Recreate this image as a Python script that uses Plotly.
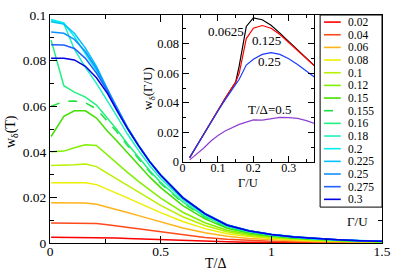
import plotly.graph_objects as go

# ---------------- main panel data: w_delta(T) for several Gamma/U ----------------
T = [0.005, 0.0625, 0.11, 0.16, 0.21, 0.26, 0.3, 0.35, 0.4, 0.45, 0.5,
     0.6, 0.7, 0.8, 0.9, 1.0, 1.1, 1.2, 1.3, 1.4, 1.5]

gamma_labels = ["0.02", "0.04", "0.06", "0.08", "0.1", "0.12", "0.15", "0.155",
                "0.16", "0.18", "0.2", "0.225", "0.25", "0.275", "0.3"]

w_002 = [0.0025, 0.0025, 0.0025, 0.0025, 0.0024, 0.0023, 0.0022, 0.0020, 0.0018, 0.0016, 0.0014,
         0.0010, 0.0007, 0.0005, 0.0003, 0.0002, 0.0002, 0.0001, 0.0001, 0.0001, 0.0001]
w_004 = [0.0088, 0.0088, 0.0088, 0.0087, 0.0085, 0.0080, 0.0075, 0.0069, 0.0062, 0.0055, 0.0048,
         0.0035, 0.0024, 0.0016, 0.0011, 0.0008, 0.0006, 0.0004, 0.0003, 0.0002, 0.0002]
w_006 = [0.0176, 0.0176, 0.0176, 0.0175, 0.0170, 0.0158, 0.0148, 0.0134, 0.0120, 0.0106, 0.0092,
         0.0066, 0.0045, 0.0030, 0.0020, 0.0014, 0.0010, 0.0007, 0.0005, 0.0004, 0.0003]
w_008 = [0.0264, 0.0264, 0.0264, 0.0264, 0.0256, 0.0236, 0.0220, 0.0198, 0.0176, 0.0154, 0.0133,
         0.0094, 0.0063, 0.0041, 0.0028, 0.0020, 0.0014, 0.0010, 0.0008, 0.0006, 0.0004]
w_010 = [0.0340, 0.0340, 0.0343, 0.0346, 0.0335, 0.0305, 0.0282, 0.0252, 0.0222, 0.0193, 0.0165,
         0.0115, 0.0077, 0.0049, 0.0033, 0.0023, 0.0017, 0.0012, 0.0009, 0.0007, 0.0005]
w_012 = [0.0400, 0.0403, 0.0418, 0.0431, 0.0428, 0.0385, 0.0350, 0.0310, 0.0270, 0.0232, 0.0197,
         0.0135, 0.0089, 0.0056, 0.0038, 0.0027, 0.0019, 0.0014, 0.0010, 0.0008, 0.0006]
w_015 = [0.0467, 0.0556, 0.0580, 0.0580, 0.0548, 0.0490, 0.0450, 0.0395, 0.0342, 0.0290, 0.0243,
         0.0164, 0.0106, 0.0065, 0.0044, 0.0031, 0.0022, 0.0016, 0.0012, 0.0009, 0.0006]
w_0155 = [0.0600, 0.0620, 0.0623, 0.0615, 0.0588, 0.0535, 0.0490, 0.0428, 0.0368, 0.0312, 0.0261,
          0.0176, 0.0113, 0.0069, 0.0047, 0.0033, 0.0023, 0.0017, 0.0012, 0.0009, 0.0007]
w_016 = [0.0890, 0.0690, 0.0662, 0.0640, 0.0605, 0.0548, 0.0500, 0.0435, 0.0375, 0.0318, 0.0266,
         0.0180, 0.0116, 0.0071, 0.0048, 0.0034, 0.0024, 0.0017, 0.0013, 0.0009, 0.0007]
w_018 = [0.0975, 0.0962, 0.0850, 0.0770, 0.0700, 0.0625, 0.0560, 0.0478, 0.0406, 0.0340, 0.0283,
         0.0190, 0.0122, 0.0075, 0.0051, 0.0035, 0.0025, 0.0018, 0.0013, 0.0010, 0.0007]
w_020 = [0.0980, 0.0965, 0.0905, 0.0830, 0.0755, 0.0665, 0.0587, 0.0502, 0.0425, 0.0355, 0.0296,
         0.0197, 0.0127, 0.0078, 0.0053, 0.0037, 0.0026, 0.0019, 0.0014, 0.0010, 0.0008]
w_0225 = [0.0970, 0.0960, 0.0920, 0.0855, 0.0775, 0.0675, 0.0593, 0.0506, 0.0428, 0.0358, 0.0298,
          0.0199, 0.0129, 0.0079, 0.0054, 0.0037, 0.0027, 0.0019, 0.0014, 0.0010, 0.0008]
w_025 = [0.0925, 0.0920, 0.0893, 0.0840, 0.0765, 0.0672, 0.0593, 0.0507, 0.0429, 0.0359, 0.0299,
         0.0200, 0.0130, 0.0080, 0.0054, 0.0038, 0.0027, 0.0019, 0.0014, 0.0010, 0.0008]
w_0275 = [0.0870, 0.0868, 0.0853, 0.0810, 0.0745, 0.0665, 0.0590, 0.0505, 0.0428, 0.0358, 0.0298,
          0.0199, 0.0129, 0.0079, 0.0054, 0.0037, 0.0027, 0.0019, 0.0014, 0.0010, 0.0008]
w_030 = [0.0810, 0.0810, 0.0803, 0.0775, 0.0725, 0.0655, 0.0585, 0.0502, 0.0426, 0.0357, 0.0297,
         0.0198, 0.0128, 0.0078, 0.0053, 0.0037, 0.0026, 0.0019, 0.0014, 0.0010, 0.0008]

main_series = [w_002, w_004, w_006, w_008, w_010, w_012, w_015, w_0155,
               w_016, w_018, w_020, w_0225, w_025, w_0275, w_030]
main_colors = ["#ff0000", "#ff4a1a", "#ffb31a", "#eeee00", "#b8f000", "#80f000", "#40e000",
               "#20e040", "#20f080", "#20f0c0", "#00eef0", "#00c0ff", "#1090ff", "#2060ff", "#0000e0"]
main_dash = ["solid"] * 7 + ["dash"] + ["solid"] * 7

# ---------------- inset data: w_delta(Gamma/U) at fixed T ----------------
G = [0.02, 0.04, 0.06, 0.08, 0.1, 0.12, 0.15, 0.16, 0.18, 0.2, 0.225,
     0.25, 0.275, 0.3, 0.325, 0.35, 0.375]
ins_T00625 = [0.003, 0.011, 0.019, 0.027, 0.035, 0.043, 0.054, 0.065, 0.0917, 0.0975, 0.0962,
              0.0925, 0.0872, 0.0815, 0.0760, 0.0703, 0.0645]
ins_T0125 = [0.003, 0.011, 0.019, 0.027, 0.035, 0.043, 0.054, 0.060, 0.0835, 0.0905, 0.0923,
             0.0905, 0.0862, 0.0810, 0.0757, 0.0700, 0.0645]
ins_T025 = [0.003, 0.011, 0.019, 0.027, 0.0345, 0.042, 0.052, 0.056, 0.0656, 0.0695, 0.0728,
            0.0740, 0.0728, 0.0698, 0.0660, 0.0615, 0.0570]
ins_T05 = [0.0015, 0.0055, 0.0095, 0.0142, 0.0180, 0.0210, 0.0245, 0.0255, 0.0270, 0.0285, 0.0283,
           0.0295, 0.0302, 0.0301, 0.0295, 0.0280, 0.0260]
inset_series = [ins_T00625, ins_T0125, ins_T025, ins_T05]
inset_colors = ["#000000", "#ff0000", "#1a3cff", "#9040d0"]
inset_labels = ["0.0625", "0.125", "0.25", "T/Δ=0.5"]
inset_label_pos = [(0.122, 0.0885), (0.236, 0.0820), (0.247, 0.0683), (0.247, 0.0357)]

FONT = "Liberation Serif, Times New Roman, serif"

fig = go.Figure()
for ys, c, d, name in zip(main_series, main_colors, main_dash, gamma_labels):
    fig.add_trace(go.Scatter(x=T, y=ys, mode="lines", name=name,
                             line=dict(color=c, width=1.5, dash=d),
                             xaxis="x", yaxis="y", showlegend=False))
for ys, c, name in zip(inset_series, inset_colors, inset_labels):
    fig.add_trace(go.Scatter(x=G, y=ys, mode="lines", name=name,
                             line=dict(color=c, width=1.2),
                             xaxis="x2", yaxis="y2", showlegend=False))

axis_common = dict(showline=True, linecolor="black", linewidth=1, mirror="allticks",
                   ticks="inside", tickcolor="black", showgrid=False, zeroline=False)

# screen-pixel layout (page body margin removed by post_script)
P_L, P_R, P_T, P_B = 50, 388, 8, 243          # main plot box in screen pixels
W, H = 399, 274
L, R, TOP, B = P_L, W - P_R, P_T, H - P_B
def px2x(px):
    return (px - P_L) / (P_R - P_L)
def py2y(py):
    return (P_B - py) / (P_B - P_T)

def txt(x, y, text, size=13, xref="paper", yref="paper", angle=0, xanchor="center"):
    return dict(x=x, y=y, xref=xref, yref=yref, text=text, showarrow=False,
                xanchor=xanchor, yanchor="middle", textangle=angle, borderpad=0,
                font=dict(family=FONT, size=size, color="black"))

ROW = 13.05
shapes = [dict(type="rect", xref="paper", yref="paper", x0=px2x(325), x1=1.0,
               y0=py2y(206), y1=1.0, line=dict(color="black", width=1),
               fillcolor="white", layer="above")]
annotations = []
for i, (name, c, d) in enumerate(zip(gamma_labels, main_colors, main_dash)):
    yy = py2y(15.3 + ROW * i)
    shapes.append(dict(type="line", xref="paper", yref="paper", x0=px2x(329), x1=px2x(346),
                       y0=yy, y1=yy, line=dict(color=c, width=1.6, dash=d), layer="above"))
    annotations.append(txt(px2x(352), yy, name, size=11.5, xanchor="left"))

annotations += [
    txt(px2x(363), py2y(221), "Γ/U", size=13),
    txt(px2x(11), py2y(128), "w<sub>δ</sub>(T)", size=14, angle=-90),
    txt(px2x(218), py2y(264), "T/Δ", size=14),
    txt(px2x(151), py2y(84), "w<sub>δ</sub>(Γ/U)", size=13, angle=-90),
    txt(px2x(252), py2y(181), "Γ/U", size=12.5),
]
for (lx, ly), lab in zip(inset_label_pos, inset_labels):
    annotations.append(txt(lx, ly, lab, size=13, xref="x2", yref="y2"))

IN_BOTTOM = 159.6
fig.update_layout(
    width=W, height=H, margin=dict(l=L, r=R, t=TOP, b=B),
    paper_bgcolor="white", plot_bgcolor="white",
    font=dict(family=FONT, size=13, color="black"),
    xaxis=dict(domain=[0, 1], range=[0, 1.5], tickvals=[0, 0.5, 1, 1.5],
               ticktext=["0", "0.5", "1", "1.5"], ticklen=7, ticklabelstandoff=-4,
               minor=dict(ticks="inside", tickvals=[0.25, 0.75, 1.25], ticklen=4, tickcolor="black"),
               tickfont=dict(family=FONT, size=13.5), anchor="y", **axis_common),
    yaxis=dict(domain=[0, 1], range=[0, 0.1], tickvals=[0, 0.02, 0.04, 0.06, 0.08, 0.1],
               ticktext=["0", "0.02", "0.04", "0.06", "0.08", "0.1"], ticklen=7,
               minor=dict(ticks="inside", tickvals=[0.01, 0.03, 0.05, 0.07, 0.09], ticklen=4,
                          tickcolor="black"),
               tickfont=dict(family=FONT, size=13.5), anchor="x", **axis_common),
    xaxis2=dict(domain=[px2x(185), px2x(319)], range=[0, 0.372], tickvals=[0, 0.1, 0.2, 0.3],
                ticktext=["0", "0.1", "0.2", "0.3"], ticklen=6, ticklabelstandoff=-5,
                minor=dict(ticks="inside", tickvals=[0.05, 0.15, 0.25, 0.35], ticklen=3,
                           tickcolor="black"),
                tickfont=dict(family=FONT, size=12), anchor="y2", **axis_common),
    yaxis2=dict(domain=[py2y(IN_BOTTOM), 1.0], range=[0, (IN_BOTTOM - P_T) / 1525.0],
                tickvals=[0, 0.02, 0.04, 0.06, 0.08],
                ticktext=["0", "0.02", "0.04", "0.06", "0.08"], ticklen=6,
                minor=dict(ticks="inside", tickvals=[0.01, 0.03, 0.05, 0.07, 0.09], ticklen=3,
                           tickcolor="black"),
                tickfont=dict(family=FONT, size=12.5), anchor="x2", **axis_common),
    shapes=shapes, annotations=annotations, showlegend=False,
)

fig.write_html(
    "out.html",
    config={"displayModeBar": False},
    post_script="document.body.style.margin='0';document.body.style.overflow='hidden';",
)
